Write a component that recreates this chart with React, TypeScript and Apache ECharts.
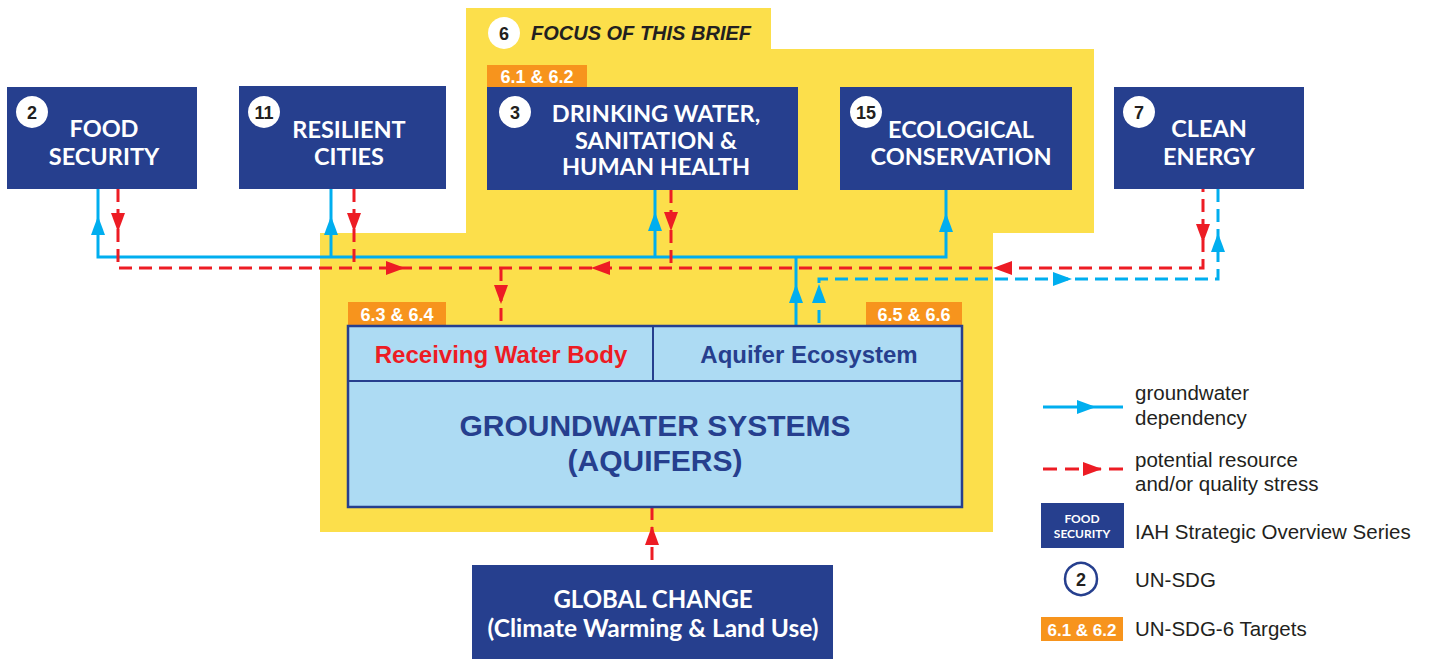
import React, { useEffect, useRef } from "react";
import * as echarts from "echarts";

// ---- content ----
const goalBoxes = [
  { num: "2", lines: ["FOOD", "SECURITY"] },
  { num: "11", lines: ["RESILIENT", "CITIES"] },
  { num: "3", lines: ["DRINKING WATER,", "SANITATION &", "HUMAN HEALTH"] },
  { num: "15", lines: ["ECOLOGICAL", "CONSERVATION"] },
  { num: "7", lines: ["CLEAN", "ENERGY"] },
];
const targetLabels = ["6.1 & 6.2", "6.3 & 6.4", "6.5 & 6.6"];
const focusNum = "6";
const focusTitle = "FOCUS OF THIS BRIEF";
const subsystems = ["Receiving Water Body", "Aquifer Ecosystem"];
const systemTitle = ["GROUNDWATER SYSTEMS", "(AQUIFERS)"];
const driverLines = ["GLOBAL CHANGE", "(Climate Warming & Land Use)"];
const legendTexts = [
  ["groundwater", "dependency"],
  ["potential resource", "and/or quality stress"],
  ["IAH Strategic Overview Series"],
  ["UN-SDG"],
  ["UN-SDG-6 Targets"],
];

// ---- layout ----
const boxRects = [
  [7, 87, 190, 102],
  [239, 86, 207, 103],
  [487, 87, 311, 103],
  [840, 87, 232, 103],
  [1114, 87, 190, 102],
];
const circleCenters = [
  [32, 112],
  [264, 112],
  [515, 112],
  [866, 112],
  [1139, 112],
];
const boxLineY = [
  [128, 156],
  [129, 156],
  [113, 140, 166],
  [129, 156],
  [128, 156],
];
const boxTextX = [104, 349, 656, 961, 1209];
const targetRects = [
  [487, 65, 100, 22],
  [348, 302, 98, 24],
  [866, 302, 96, 24],
];

const BLUE = "#00AEEF";
const RED = "#ED1C24";
const NAVY = "#263F8E";
const YELLOW = "#FCDF4B";
const ORANGE = "#F7941D";
const LIGHT = "#ADDBF3";
const INK = "#231F20";
const BOXFONT = "Lato";
const SANS = "'Liberation Sans', Arial, sans-serif";

function tri(tx: number, ty: number, dir: string, color: string) {
  const L = 19, W = 7;
  let pts: number[][] = [];
  if (dir === "up") pts = [[tx, ty], [tx - W, ty + L], [tx + W, ty + L]];
  if (dir === "down") pts = [[tx, ty], [tx - W, ty - L], [tx + W, ty - L]];
  if (dir === "right") pts = [[tx, ty], [tx - L, ty - W], [tx - L, ty + W]];
  if (dir === "left") pts = [[tx, ty], [tx + L, ty - W], [tx + L, ty + W]];
  return { type: "polygon", shape: { points: pts }, style: { fill: color }, z: 20 };
}
function pl(points: number[][], color: string, dashed: boolean) {
  return {
    type: "polyline",
    shape: { points },
    style: { stroke: color, lineWidth: 3, fill: null, lineDash: dashed ? [13, 7] : null },
    z: 5,
  };
}
function txt(x: number, y: number, text: string, o: any) {
  return {
    type: "text",
    x,
    y,
    z: 30,
    style: { text, align: "center", verticalAlign: "middle", ...o },
  };
}

export default function App() {
  const ref = useRef<HTMLDivElement>(null);
  useEffect(() => {
    const chart = echarts.init(ref.current!, null, { renderer: "svg" });
    const g: any[] = [];
    // yellow focus area
    g.push({
      type: "polygon",
      z: 0,
      shape: {
        points: [
          [466, 8], [771, 8], [771, 49], [1094, 49], [1094, 233], [993, 233],
          [993, 532], [320, 532], [320, 233], [466, 233],
        ],
      },
      style: { fill: YELLOW },
    });
    // focus title
    g.push({ type: "circle", z: 25, shape: { cx: 504, cy: 33, r: 16 }, style: { fill: "#fff" } });
    g.push(txt(504, 34, focusNum, { fill: INK, fontFamily: SANS, fontWeight: "bold", fontSize: 18 }));
    g.push(
      txt(531, 33, focusTitle, {
        align: "left",
        fill: INK,
        fontFamily: SANS,
        fontWeight: "bold",
        fontStyle: "italic",
        fontSize: 20,
      })
    );
    // connectors
    g.push(pl([[98, 189], [98, 257], [946, 257], [946, 190]], BLUE, false));
    g.push(pl([[331, 189], [331, 257]], BLUE, false));
    g.push(pl([[655, 190], [655, 257]], BLUE, false));
    g.push(pl([[796, 257], [796, 326]], BLUE, false));
    g.push(pl([[118, 189], [118, 268], [1203, 268], [1203, 189]], RED, true));
    g.push(pl([[354, 189], [354, 268]], RED, true));
    g.push(pl([[671, 190], [671, 268]], RED, true));
    g.push(pl([[501, 268], [501, 326]], RED, true));
    g.push(pl([[652, 507], [652, 565]], RED, true));
    g.push(pl([[1218, 189], [1218, 279], [819, 279], [819, 326]], BLUE, true));
    // arrowheads
    [[98, 216], [331, 216], [655, 212], [946, 213], [796, 284], [819, 284], [1218, 233]].forEach((p) =>
      g.push(tri(p[0], p[1], "up", BLUE))
    );
    g.push(tri(1072, 279, "right", BLUE));
    [[118, 232], [354, 232], [671, 231], [1203, 243], [501, 304]].forEach((p) =>
      g.push(tri(p[0], p[1], "down", RED))
    );
    g.push(tri(405, 268, "right", RED));
    g.push(tri(591, 268, "left", RED));
    g.push(tri(993, 268, "left", RED));
    g.push(tri(652, 526, "up", RED));
    // goal boxes
    goalBoxes.forEach((b, i) => {
      const [x, y, w, h] = boxRects[i];
      g.push({ type: "rect", z: 10, shape: { x, y, width: w, height: h }, style: { fill: NAVY } });
      const [cx, cy] = circleCenters[i];
      g.push({ type: "circle", z: 25, shape: { cx, cy, r: 16 }, style: { fill: "#fff" } });
      g.push(txt(cx, cy + 1, b.num, { fill: INK, fontFamily: SANS, fontWeight: "bold", fontSize: 18 }));
      b.lines.forEach((l, j) =>
        g.push(txt(boxTextX[i], boxLineY[i][j], l, { fill: "#fff", fontFamily: BOXFONT, fontWeight: "bold", fontSize: 23.5 }))
      );
    });
    // target labels
    targetLabels.forEach((t, i) => {
      const [x, y, w, h] = targetRects[i];
      g.push({ type: "rect", z: 12, shape: { x, y, width: w, height: h }, style: { fill: ORANGE } });
      g.push(txt(x + w / 2, y + h / 2 + 1, t, { fill: "#fff", fontFamily: SANS, fontWeight: "bold", fontSize: 18 }));
    });
    // groundwater system box
    g.push({
      type: "rect",
      z: 12,
      shape: { x: 348, y: 326, width: 614, height: 181 },
      style: { fill: LIGHT, stroke: NAVY, lineWidth: 2.5 },
    });
    g.push({ type: "line", z: 13, shape: { x1: 348, y1: 381, x2: 962, y2: 381 }, style: { stroke: NAVY, lineWidth: 2 } });
    g.push({ type: "line", z: 13, shape: { x1: 653, y1: 326, x2: 653, y2: 381 }, style: { stroke: NAVY, lineWidth: 2 } });
    g.push(txt(501, 354, subsystems[0], { fill: RED, fontFamily: SANS, fontWeight: "bold", fontSize: 24 }));
    g.push(txt(809, 354, subsystems[1], { fill: NAVY, fontFamily: SANS, fontWeight: "bold", fontSize: 24 }));
    g.push(txt(655, 425, systemTitle[0], { fill: NAVY, fontFamily: SANS, fontWeight: "bold", fontSize: 30 }));
    g.push(txt(655, 460, systemTitle[1], { fill: NAVY, fontFamily: SANS, fontWeight: "bold", fontSize: 30 }));
    // global change box
    g.push({ type: "rect", z: 10, shape: { x: 472, y: 565, width: 361, height: 100 }, style: { fill: NAVY } });
    g.push(txt(653, 598, driverLines[0], { fill: "#fff", fontFamily: BOXFONT, fontWeight: "bold", fontSize: 24 }));
    g.push(txt(653, 627, driverLines[1], { fill: "#fff", fontFamily: BOXFONT, fontWeight: "bold", fontSize: 24.5 }));
    // legend
    g.push(pl([[1043, 407], [1123, 407]], BLUE, false));
    g.push(tri(1096, 407, "right", BLUE));
    g.push({
      type: "polyline",
      z: 5,
      shape: { points: [[1043, 469], [1123, 469]] },
      style: { stroke: RED, lineWidth: 3, fill: null, lineDash: [14, 8] },
    });
    g.push(tri(1102, 469, "right", RED));
    g.push({ type: "rect", z: 10, shape: { x: 1041, y: 503, width: 83, height: 45 }, style: { fill: NAVY } });
    g.push(txt(1082, 518, "FOOD", { fill: "#fff", fontFamily: BOXFONT, fontWeight: "bold", fontSize: 12 }));
    g.push(txt(1082, 533, "SECURITY", { fill: "#fff", fontFamily: BOXFONT, fontWeight: "bold", fontSize: 12 }));
    g.push({ type: "circle", z: 25, shape: { cx: 1081, cy: 579, r: 16 }, style: { fill: "#fff", stroke: NAVY, lineWidth: 2.5 } });
    g.push(txt(1081, 580, "2", { fill: INK, fontFamily: SANS, fontWeight: "bold", fontSize: 18 }));
    g.push({ type: "rect", z: 10, shape: { x: 1041, y: 617, width: 82, height: 24 }, style: { fill: ORANGE } });
    g.push(txt(1082, 630, targetLabels[0], { fill: "#fff", fontFamily: SANS, fontWeight: "bold", fontSize: 17 }));
    const legY = [[392, 417], [459, 483], [531], [579], [628]];
    legendTexts.forEach((ls, i) =>
      ls.forEach((l, j) =>
        g.push(
          txt(1135, legY[i][j], l, {
            align: "left",
            fill: INK,
            fontFamily: SANS,
            fontSize: 20.5,
            width: 279,
            overflow: "truncate",
            ellipsis: "",
          })
        )
      )
    );

    chart.setOption({ animation: false, graphic: { elements: g } });
    return () => chart.dispose();
  }, []);
  return (
    <div
      ref={ref}
      style={{ position: "fixed", left: 0, top: 0, width: 1432, height: 659, background: "#fff", overflow: "hidden" }}
    />
  );
}
